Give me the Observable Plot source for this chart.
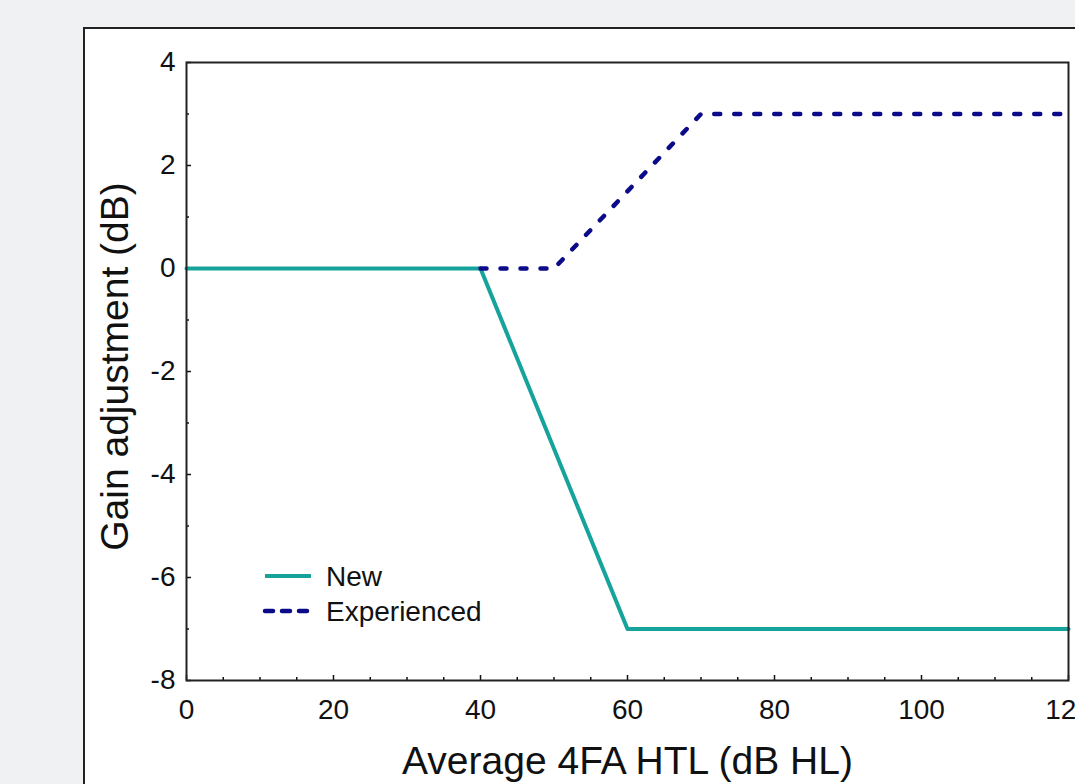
<!DOCTYPE html>
<html><head><meta charset="utf-8">
<script src="https://cdn.jsdelivr.net/npm/d3@7"></script>
<script src="https://cdn.jsdelivr.net/npm/@observablehq/plot@0.6"></script>
<style>
html,body{margin:0;padding:0;background:#f0f1f3;overflow:hidden;width:1075px;height:784px;}
#panel{position:absolute;left:83px;top:27px;width:1200px;height:900px;background:#fff;border:2px solid #222;box-sizing:border-box;}
#chart{position:absolute;left:0;top:0;}
</style></head><body><div id="panel"></div><div id="chart"></div>
<script>
// Data
const seriesNames = ["New", "Experienced"];
const newX = [0, 40, 60, 120];
const newY = [0, 0, -7, -7];
const expX = [40, 50, 70, 120];
const expY = [0, 0, 3, 3];
const xTicks = [0, 20, 40, 60, 80, 100, 120];
const xMinorTicks = [5, 10, 15, 25, 30, 35, 45, 50, 55, 65, 70, 75, 85, 90, 95, 105, 110, 115];
const yTicks = [-8, -6, -4, -2, 0, 2, 4];
const yMinorTicks = [-7, -5, -3, -1, 1, 3];
const xTitle = "Average 4FA HTL (dB HL)";
const yTitle = "Gain adjustment (dB)";

const colors = {New: "#15a39b", Experienced: "#0b0b8a"};
const newData = newX.map((x, i) => ({x, y: newY[i]}));
const expData = expX.map((x, i) => ({x, y: expY[i]}));

const fontFamily = "'Liberation Sans', Arial, sans-serif";
const fmt = d => String(d);

const chart = Plot.plot({
  width: 1075,
  height: 784,
  marginLeft: 186,
  marginTop: 62,
  marginRight: 7,
  marginBottom: 104,
  style: {background: "transparent", fontFamily, color: "#111"},
  x: {domain: [0, 120]},
  y: {domain: [-8, 4]},
  marks: [
    Plot.axisX(xTicks, {anchor: "bottom", tickSize: -5, tickPadding: 24, fontSize: 28, strokeWidth: 1.5, tickFormat: fmt, label: null}),
    Plot.axisX(xMinorTicks, {anchor: "bottom", tickSize: -3, tickFormat: () => "", strokeWidth: 1.5, label: null}),
    Plot.axisY(yTicks, {anchor: "left", tickSize: -5, tickPadding: 16, fontSize: 28, strokeWidth: 1.5, tickFormat: fmt, label: null}),
    Plot.axisY(yMinorTicks, {anchor: "left", tickSize: -3, tickFormat: () => "", strokeWidth: 1.5, label: null}),
    Plot.line(newData, {x: "x", y: "y", stroke: colors.New, strokeWidth: 4}),
    Plot.line(expData, {x: "x", y: "y", stroke: colors.Experienced, strokeWidth: 4.5, strokeDasharray: "6,14", strokeLinecap: "round"}),
    Plot.frame({stroke: "#222", strokeWidth: 2}),
    Plot.text([xTitle], {frameAnchor: "bottom", dy: 93, lineAnchor: "bottom", textAnchor: "middle", fontSize: 39, fill: "#111"}),
    Plot.text([yTitle], {frameAnchor: "left", dx: -59, dy: -5, rotate: -90, lineAnchor: "bottom", textAnchor: "middle", fontSize: 39, fill: "#111"})
  ]
});

// Legend
const svg = d3.select(chart);
const leg = svg.append("g")
  .style("font-family", fontFamily).style("font-size", "28px")
  .attr("fill", "#111").attr("text-anchor", "start");
seriesNames.forEach((name, i) => {
  const y = 576 + i * 35;
  leg.append("line").attr("x1", 265).attr("x2", 311).attr("y1", y).attr("y2", y)
    .attr("stroke", colors[name]).attr("stroke-width", name === "New" ? 4 : 4.5)
    .attr("stroke-dasharray", name === "New" ? null : "8,9")
    .attr("stroke-linecap", name === "New" ? "butt" : "round");
  leg.append("text").attr("x", 326).attr("y", y + 10).attr("text-anchor", "start").text(name);
});

document.getElementById("chart").appendChild(chart);
</script>
</body></html>
